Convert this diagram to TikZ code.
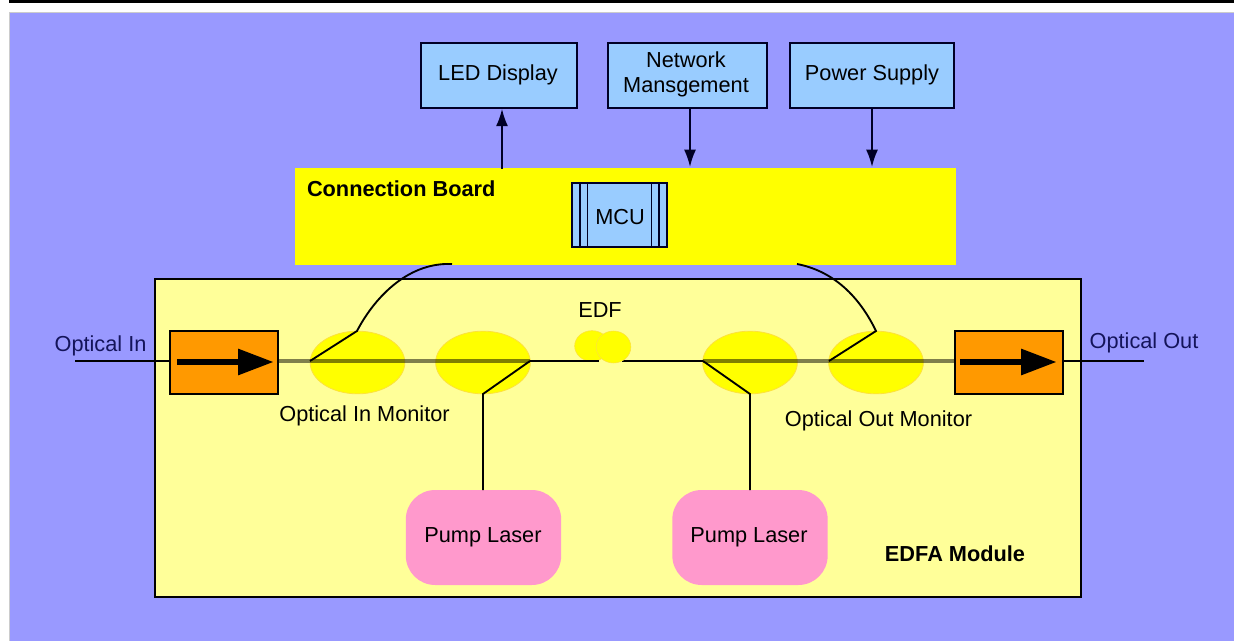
\documentclass[tikz,border=0pt]{standalone}
\usepackage{fontspec}
\setmainfont{Liberation Sans}
\usetikzlibrary{arrows.meta,shapes.geometric}
\definecolor{panelblue}{HTML}{9999FF}
\definecolor{boxblue}{HTML}{99CCFF}
\definecolor{boardyellow}{HTML}{FFFF00}
\definecolor{modyellow}{HTML}{FFFF99}
\definecolor{isoorange}{HTML}{FF9900}
\definecolor{pumppink}{HTML}{FF99CC}
\definecolor{navytext}{HTML}{14145A}
\tikzset{
  x=0.75pt,y=-0.75pt,
  every node/.style={inner sep=0pt,outer sep=0pt,font=\fontsize{16.3pt}{18.8pt}\selectfont},
  bluebox/.style={draw=black!85!blue,line width=1.5pt,fill=boxblue,minimum height=48.75pt,align=center},
  isobox/.style={draw=black,line width=1.5pt,fill=isoorange,minimum width=81pt,minimum height=46.5pt},
  pumpbox/.style={fill=pumppink,rounded corners=22pt,minimum width=116.5pt,minimum height=71.25pt},
  coupler/.style={ellipse,fill=boardyellow,draw=yellow!70!orange!60!modyellow,line width=.6pt,minimum width=71pt,minimum height=47pt},
  edfblob/.style={ellipse,fill=boardyellow,draw=yellow!70!orange!60!modyellow,line width=.4pt,minimum width=26pt,minimum height=23pt},
  fibre/.style={line width=1.4pt,black},
  fibrefaint/.style={line width=2.6pt,black,opacity=.5},
  feed/.style={line width=1.4pt,black!85!blue,-{Latex[length=13pt,width=9pt]}},
  isoarrow/.style={line width=5.2pt,black,-{Triangle[length=27pt,width=18.5pt]}},
  boldlabel/.style={font=\fontsize{16.3pt}{18.8pt}\selectfont\bfseries},
}
\begin{document}
\begin{tikzpicture}
\useasboundingbox (0,0) rectangle (1234,641);
\fill[white] (0,0) rectangle (1234,641);
\fill[black] (9,0) rectangle (1234,3);
\fill[panelblue,draw=black!20] (9.5,12.5) rectangle (1236,643);

% connection board and module
\node[fill=boardyellow,minimum width=495.75pt,minimum height=72.75pt] (board) at (625.5,216.5) {};
\node[draw=black,line width=1.5pt,fill=modyellow,minimum width=694.5pt,minimum height=238.5pt] (module) at (618,438) {};
\node[boldlabel,anchor=west] (boardlabel) at (307,189) {Connection Board};
\node[boldlabel] (modlabel) at (955,554) {EDFA Module};

% top boxes
\node[bluebox,minimum width=117pt] (led) at (499,75.5) {};
\node (ledtext) at (498,75) {LED Display};
\node[bluebox,minimum width=119pt] (net) at (687.5,75.5) {};
\node[align=center] (nettext) at (686,74) {Network\\Mansgement};
\node[bluebox,minimum width=123pt] (power) at (872,75.5) {};
\node (powertext) at (872,75) {Power Supply};

% MCU
\node[bluebox,minimum width=71.25pt,minimum height=48pt] (mcu) at (619.5,215) {};
\draw[line width=1.2pt,black!85!blue] (580,183) -- (580,247) (587.5,183) -- (587.5,247) (651.5,183) -- (651.5,247) (659,183) -- (659,247);
\node (mcutext) at (620,217) {MCU};

% feeds
\coordinate (ledbase) at (502,169);
\coordinate (netbase) at (690,108);
\coordinate (powerbase) at (872,108);
\coordinate (netend) at (690,167);
\coordinate (powerend) at (872,167);
\draw[feed] (ledbase) -- (502,108.8);
\draw[feed] (netbase) -- (netend);
\draw[feed] (powerbase) -- (powerend);

% couplers and EDF
\coordinate (inL) at (75,361);
\coordinate (outR) at (1144,361);
\node[coupler] (c1) at (357.5,362.5) {};
\node[coupler] (c2) at (483,362.5) {};
\node[coupler] (c3) at (750,362.5) {};
\node[coupler] (c4) at (876,362.5) {};
\node[edfblob] (e1) at (592,346) {};
\coordinate (fibA) at (530,361);
\coordinate (fibB) at (599,361);
\coordinate (fibC) at (622,361);
\coordinate (fibD) at (703,361);
\draw[fibre] (fibA) -- (fibB);
\draw[fibre] (fibC) -- (fibD);
\node[edfblob,minimum height=24pt] (e2) at (613.5,347) {};
\node (edftext) at (600,310) {EDF};

% isolators
\node[isobox] (iso1) at (224,362.5) {};
\node[isobox] (iso2) at (1009,362.5) {};

% main fibre
\draw[fibre] (inL) -- (iso1.west |- inL);
\draw[fibre] (iso2.east |- outR) -- (outR);
\draw[fibrefaint] (iso1.east |- inL) -- (fibA);
\draw[fibrefaint] (fibD) -- (iso2.west |- outR);

% isolator arrows
\coordinate (a1s) at (177,362);
\coordinate (a1e) at (274,362);
\coordinate (a2s) at (960,362);
\coordinate (a2e) at (1057,362);
\draw[isoarrow] (a1s) -- (a1e);
\draw[isoarrow] (a2s) -- (a2e);

% pumps
\node[pumpbox] (p1) at (483.5,537.5) {};
\node[pumpbox] (p2) at (750,537.5) {};
\node (p1text) at (483,537) {Pump Laser};
\node (p2text) at (749,537) {Pump Laser};

% taps
\coordinate (t1a) at (310,361);
\coordinate (t1b) at (357,331);
\coordinate (t1c) at (452,264);
\coordinate (t2a) at (530,361);
\coordinate (t2b) at (483,394);
\coordinate (t3a) at (703,361);
\coordinate (t3b) at (750,394);
\coordinate (t4a) at (829,361);
\coordinate (t4b) at (876,331);
\coordinate (t4c) at (797,264);
\draw[fibre] (t1a) -- (t1b) .. controls (372,302) and (405,262) .. (t1c);
\draw[fibre] (t4a) -- (t4b) .. controls (862,302) and (838,272) .. (t4c);
\draw[fibre] (t2a) -- (t2b) -- (p1.north -| t2b);
\draw[fibre] (t3a) -- (t3b) -- (p2.north -| t3b);

% labels
\node[text=navytext] (inlabel) at (100.5,346) {Optical In};
\node[text=navytext] (outlabel) at (1144,343) {Optical Out};
\node (inmon) at (364.5,416) {Optical In Monitor};
\node (outmon) at (878.5,421) {Optical Out Monitor};
\end{tikzpicture}
\end{document}
